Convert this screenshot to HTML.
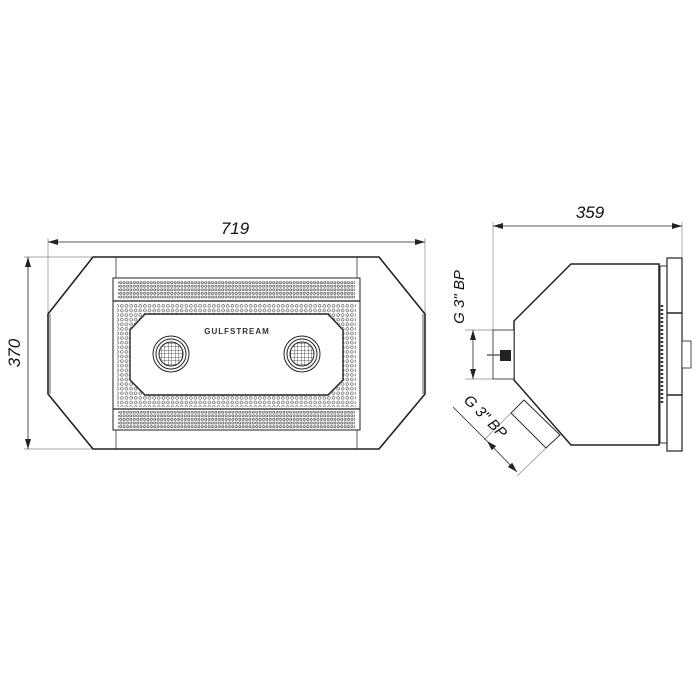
<!DOCTYPE html>
<html><head><style>body{margin:0;background:#fff}svg{display:block}</style></head><body>
<svg width="700" height="700" viewBox="0 0 700 700" xmlns="http://www.w3.org/2000/svg" font-family="Liberation Sans, sans-serif">
<defs>
<pattern id="dense" x="0" y="0" width="3.4" height="3.6" patternUnits="userSpaceOnUse"><circle cx="1.7" cy="1.8" r="1.1" fill="none" stroke="#333" stroke-width="0.6"/></pattern>
<pattern id="big" x="0" y="0" width="4.6" height="4.6" patternUnits="userSpaceOnUse"><circle cx="2.3" cy="2.3" r="1.4" fill="none" stroke="#444" stroke-width="0.6"/></pattern>
<pattern id="grid" width="3.5" height="3.5" patternUnits="userSpaceOnUse"><path d="M0 0H3.5M0 0V3.5" stroke="#333" stroke-width="0.8"/></pattern>
<marker id="ar" markerWidth="10" markerHeight="6" refX="10" refY="3" orient="auto" markerUnits="userSpaceOnUse"><path d="M0 0L10 3L0 6z" fill="#222"/></marker>
<marker id="al" markerWidth="10" markerHeight="6" refX="0" refY="3" orient="auto" markerUnits="userSpaceOnUse"><path d="M10 0L0 3L10 6z" fill="#222"/></marker>
</defs>
<g fill="none" stroke="#888" stroke-width="0.7">
<!-- 719 -->
<line x1="48" y1="238" x2="48" y2="314"/><line x1="425" y1="238" x2="425" y2="314"/>
<!-- 370 -->
<line x1="24" y1="257" x2="93" y2="257"/><line x1="24" y1="449" x2="93" y2="449"/>
<!-- 359 -->
<line x1="493" y1="222" x2="493" y2="330"/><line x1="682" y1="222" x2="682" y2="257"/>
<!-- G3 vertical -->
<line x1="465" y1="330" x2="493" y2="330"/><line x1="465" y1="379" x2="493" y2="379"/>
<!-- pipe ext -->
<line x1="511" y1="413" x2="484" y2="440"/><line x1="546" y1="448" x2="517" y2="476"/>
</g>
<g stroke="#222" stroke-width="0.8" fill="none">
<line x1="48" y1="242" x2="425" y2="242" marker-start="url(#al)" marker-end="url(#ar)"/>
<line x1="28" y1="257" x2="28" y2="449" marker-start="url(#al)" marker-end="url(#ar)"/>
<line x1="171" y1="383" x2="302" y2="383" marker-start="url(#al)" marker-end="url(#ar)"/>
<line x1="493" y1="226" x2="682" y2="226" marker-start="url(#al)" marker-end="url(#ar)"/>
<line x1="473" y1="330" x2="473" y2="379" marker-start="url(#al)" marker-end="url(#ar)"/>
<line x1="453" y1="407" x2="487" y2="441"/>
<line x1="487" y1="441" x2="517" y2="472" marker-start="url(#al)" marker-end="url(#ar)"/>
<line x1="171" y1="370" x2="171" y2="383"/><line x1="302" y1="370" x2="302" y2="383"/>
</g>
<g fill="#111" font-style="italic" font-size="17">
<text x="235" y="234" text-anchor="middle">719</text>
<text x="590" y="218" text-anchor="middle">359</text>
<text x="237" y="376" text-anchor="middle" font-size="16">250</text>
<text transform="translate(20,353) rotate(-90)" text-anchor="middle">370</text>
<text transform="translate(464,297) rotate(-90)" text-anchor="middle" font-size="15">G 3" BP</text>
<text transform="translate(482,420) rotate(45)" text-anchor="middle" font-size="15">G 3" BP</text>
</g>
<!-- front view -->
<g stroke="#222" stroke-width="1.6" fill="#fff">
<path d="M93 257H379L425 314V394L379 449H93L48 394V314Z"/>
</g>
<g stroke="#333" stroke-width="0.8" fill="none">
<line x1="116" y1="257" x2="116" y2="449"/><line x1="357" y1="257" x2="357" y2="449"/>
<line x1="50" y1="314" x2="50" y2="394"/><line x1="423" y1="314" x2="423" y2="394"/>
</g>
<rect x="113" y="278" width="247" height="152" fill="#fff" stroke="#222" stroke-width="1"/>
<rect x="118" y="281" width="237" height="18" fill="url(#dense)"/>
<rect x="118" y="411" width="237" height="18" fill="url(#dense)"/>
<line x1="113" y1="301" x2="360" y2="301" stroke="#222" stroke-width="1.2"/>
<line x1="113" y1="409" x2="360" y2="409" stroke="#222" stroke-width="1.2"/>
<rect x="117" y="303" width="239" height="104" fill="url(#big)"/>
<path d="M145 314H328L343 330V380L328 395H145L130 380V330Z" fill="#fff" stroke="#222" stroke-width="1.4"/>
<text x="237" y="334" text-anchor="middle" font-size="8" font-weight="bold" fill="#333" letter-spacing="1">GULFSTREAM</text>
<g stroke="#222" stroke-width="1">
<circle cx="171" cy="354" r="18" fill="#fff"/><circle cx="171" cy="354" r="15" fill="none"/><circle cx="171" cy="354" r="12" fill="url(#grid)"/>
<circle cx="302" cy="354" r="18" fill="#fff"/><circle cx="302" cy="354" r="15" fill="none"/><circle cx="302" cy="354" r="12" fill="url(#grid)"/>
</g>
<!-- side view -->
<g stroke="#222" stroke-width="1.5" fill="#fff">
<path d="M571 264H659V445H571L514 380V321Z"/>
<rect x="493" y="330" width="21" height="49" stroke-width="0.8"/>
<path d="M524 400L560 435L546 448L511 413Z" stroke-width="0.9"/>
<rect x="660" y="266" width="7" height="177" stroke-width="0.9"/>
<rect x="667" y="258" width="15" height="193" stroke-width="1.2"/>
<rect x="682" y="341" width="9" height="27" stroke-width="0.8"/>
</g>
<line x1="667" y1="313" x2="682" y2="313" stroke="#222" stroke-width="1.5"/>
<line x1="667" y1="395" x2="682" y2="395" stroke="#222" stroke-width="1.5"/>
<line x1="662" y1="305" x2="662" y2="405" stroke="#333" stroke-width="2.5" stroke-dasharray="2 2"/>
<rect x="500" y="350" width="11" height="11" fill="#222"/>
<line x1="487" y1="355" x2="500" y2="355" stroke="#444" stroke-width="1.2"/>
</svg>
</body></html>
